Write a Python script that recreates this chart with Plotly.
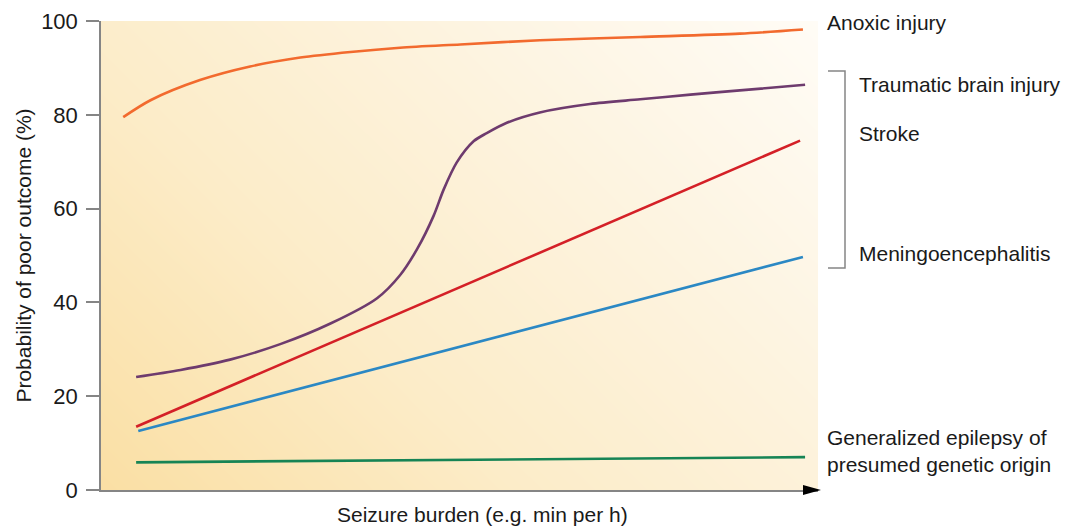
import numpy as np
import plotly.graph_objects as go

# ---- data (x: seizure burden, arbitrary units 0-100; y: probability of poor outcome, %) ----
anoxic_x = [3.1, 6.9, 13.8, 20.8, 27.8, 34.8, 41.7, 50.1, 61.2, 75.2, 89.1, 97.9]
anoxic_y = [79.5, 83.1, 87.4, 90.3, 92.2, 93.4, 94.3, 95.0, 95.9, 96.6, 97.3, 98.2]

tbi_x = [4.9, 11.1, 18.0, 25.0, 32.0, 38.5, 41.7, 44.1, 46.4, 47.8, 49.6, 52.0, 53.8,
         56.6, 61.2, 68.2, 75.2, 82.2, 89.1, 98.2]
tbi_y = [24.1, 25.6, 27.8, 31.1, 35.5, 40.9, 45.8, 51.4, 58.5, 64.1, 69.8, 74.4, 76.1,
         78.3, 80.5, 82.3, 83.3, 84.3, 85.2, 86.4]

stroke_x = [4.9, 38.9, 97.5]
stroke_y = [13.5, 35.9, 74.5]

mening_x = [5.2, 97.9]
mening_y = [12.6, 49.7]

epilepsy_x = [4.9, 98.2]
epilepsy_y = [5.9, 7.0]

y_ticks = [0, 20, 40, 60, 80, 100]

labels = {
    "anoxic": "Anoxic injury",
    "tbi": "Traumatic brain injury",
    "stroke": "Stroke",
    "mening": "Meningoencephalitis",
    "epi": "Generalized epilepsy of<br>presumed genetic origin",
}

FONT = "Liberation Sans, Arial, sans-serif"
TXT = "#1a1a1a"
GREY = "#858585"

fig = go.Figure()

# background diagonal gradient (style only)
gx = np.linspace(0, 100, 41)
gy = np.linspace(0, 100, 41)
gz = gx[None, :] * 717 + gy[:, None] * 472
fig.add_trace(go.Heatmap(
    x=gx, y=gy, z=gz, zsmooth="best", showscale=False, hoverinfo="skip",
    colorscale=[[0, "#fadfa4"], [0.35, "#fcecc8"], [0.7, "#fdf4e1"], [1, "#fffcf6"]],
))

def line(x, y, color, spline=False):
    fig.add_trace(go.Scatter(
        x=x, y=y, mode="lines",
        line=dict(color=color, width=2.6, shape="spline" if spline else "linear", smoothing=0.8),
        hoverinfo="skip", showlegend=False,
    ))

line(anoxic_x, anoxic_y, "#f26a2e", spline=True)
line(tbi_x, tbi_y, "#6e3b6e", spline=True)
line(stroke_x, stroke_y, "#d42027")
line(mening_x, mening_y, "#2b88c4")
line(epilepsy_x, epilepsy_y, "#168455")

OFF = 8  # page body margin
W, H = 1069 - OFF, 528 - OFF
L, T = 101 - OFF, 21 - OFF
pw, ph = 717, 469
R = W - L - pw
B = H - T - ph

def px2paper_x(px):
    return (px - OFF - L) / pw

def py2paper_y(py):
    return (T + ph - (py - OFF)) / ph

ann = []
def lab(text, px, py, size=21):
    ann.append(dict(text=text, xref="paper", yref="paper", x=px2paper_x(px), y=py2paper_y(py),
                    xanchor="left", yanchor="middle", showarrow=False, align="left",
                    font=dict(family=FONT, size=size, color=TXT)))

lab(labels["anoxic"], 825, 23)
lab(labels["tbi"], 857, 84)
lab(labels["stroke"], 857, 134)
lab(labels["mening"], 857, 253)
lab(labels["epi"], 825, 451)

ann.append(dict(text="Seizure burden (e.g. min per h)", xref="paper", yref="paper",
                x=px2paper_x(482), y=py2paper_y(515), xanchor="center", yanchor="middle",
                showarrow=False, font=dict(family=FONT, size=21, color=TXT)))

shapes = [
    # bracket
    dict(type="path", xref="paper", yref="paper",
         path=f"M {px2paper_x(828)} {py2paper_y(71)} L {px2paper_x(845)} {py2paper_y(71)} "
              f"L {px2paper_x(845)} {py2paper_y(268)} L {px2paper_x(828)} {py2paper_y(268)}",
         line=dict(color=GREY, width=1.5)),
    # x-axis arrow head
    dict(type="path", xref="paper", yref="paper",
         path=f"M {px2paper_x(803)} {py2paper_y(485)} L {px2paper_x(821)} {py2paper_y(490)} "
              f"L {px2paper_x(803)} {py2paper_y(495)} Z",
         fillcolor="#000000", line=dict(color="#000000", width=0)),
]

fig.update_layout(
    width=W, height=H,
    margin=dict(l=L, r=R, t=T, b=B, autoexpand=False),
    paper_bgcolor="white", plot_bgcolor="white",
    showlegend=False,
    annotations=ann, shapes=shapes,
    font=dict(family=FONT, size=21, color=TXT),
    xaxis=dict(range=[0, 100], showticklabels=False, ticks="", showgrid=False, zeroline=False,
               showline=True, linecolor=GREY, linewidth=1.5, fixedrange=True, automargin=False),
    yaxis=dict(range=[0, 100], tickvals=y_ticks, ticks="outside", ticklen=13, tickcolor=GREY,
               tickwidth=1.5, showgrid=False, zeroline=False, showline=True, linecolor=GREY,
               linewidth=1.5, ticklabelstandoff=4, automargin=False, ticklabeloverflow="allow",
               tickfont=dict(family=FONT, size=22, color=TXT),
               title=dict(text="Probability of poor outcome (%)", standoff=4,
                          font=dict(family=FONT, size=21, color=TXT)),
               fixedrange=True),
)

fig.write_html("out.html")
